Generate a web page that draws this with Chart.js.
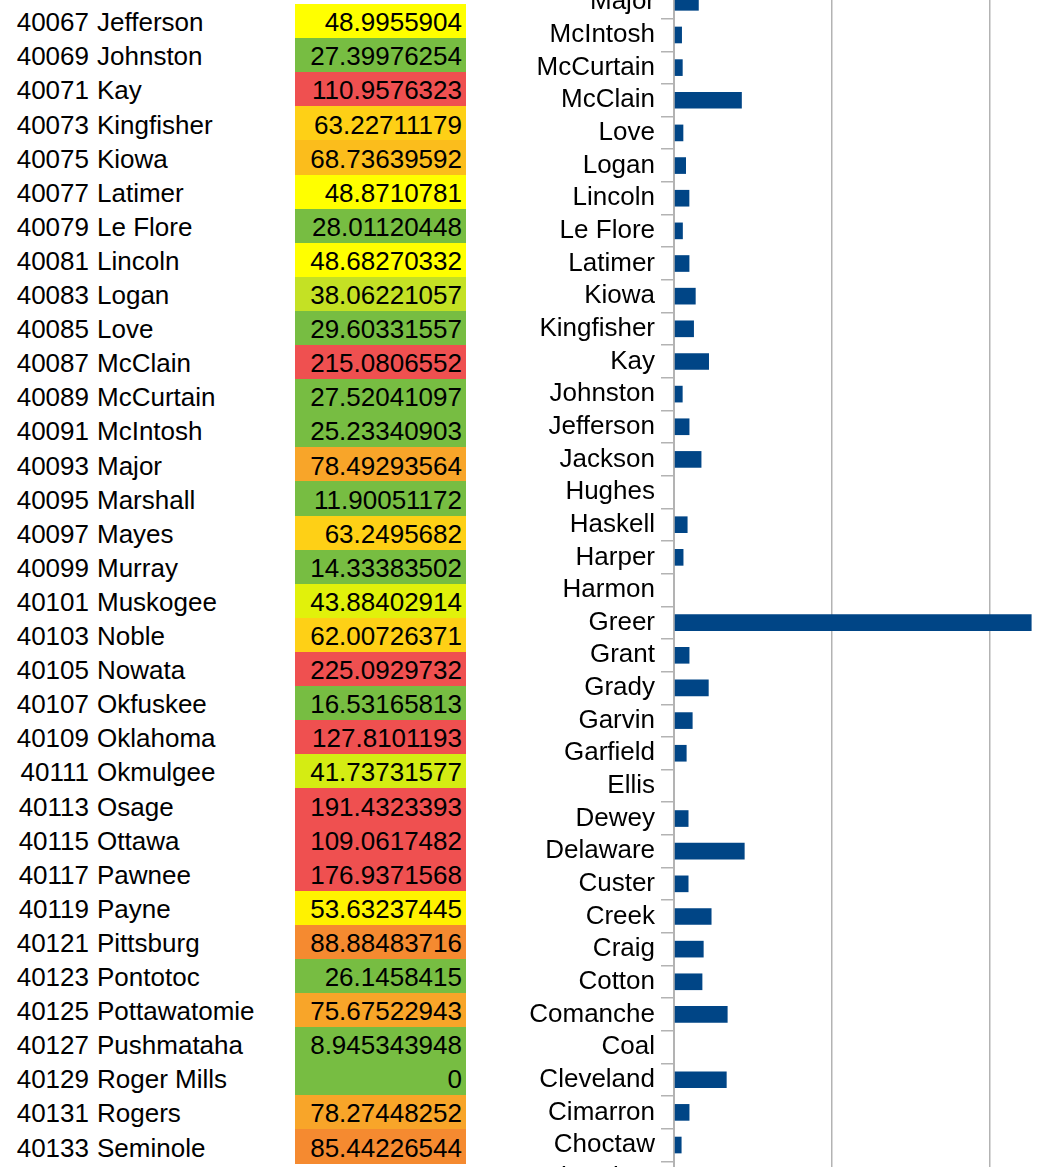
<!DOCTYPE html>
<html>
<head>
<meta charset="utf-8">
<title>Oklahoma counties</title>
<script src="https://cdn.jsdelivr.net/npm/chart.js@4"></script>
<style>
  html, body {
    margin: 0; padding: 0; background: #fff; overflow: hidden;
    width: 1048px; height: 1167px; position: relative;
    font-family: 'Liberation Sans', Arial, sans-serif;
  }
  #sheet { position: absolute; left: 0; top: 0; width: 480px; height: 1167px; }
  .txt { position: absolute; font-size: 26px; color: #000; white-space: nowrap; }
  .fill { position: absolute; }
  #chartBox { position: absolute; left: 514px; top: -14px; width: 633px; height: 1238px; }
</style>
</head>
<body>
<div id="sheet"></div>
<div id="chartBox"><canvas id="bars" width="633" height="1238"></canvas></div>
<script>
// Spreadsheet rows: county FIPS code, county name, value
const fipsCodes = [40067, 40069, 40071, 40073, 40075, 40077, 40079, 40081, 40083, 40085,
  40087, 40089, 40091, 40093, 40095, 40097, 40099, 40101, 40103, 40105, 40107, 40109,
  40111, 40113, 40115, 40117, 40119, 40121, 40123, 40125, 40127, 40129, 40131, 40133];
const tableCounties = ['Jefferson', 'Johnston', 'Kay', 'Kingfisher', 'Kiowa', 'Latimer',
  'Le Flore', 'Lincoln', 'Logan', 'Love', 'McClain', 'McCurtain', 'McIntosh', 'Major',
  'Marshall', 'Mayes', 'Murray', 'Muskogee', 'Noble', 'Nowata', 'Okfuskee', 'Oklahoma',
  'Okmulgee', 'Osage', 'Ottawa', 'Pawnee', 'Payne', 'Pittsburg', 'Pontotoc',
  'Pottawatomie', 'Pushmataha', 'Roger Mills', 'Rogers', 'Seminole'];
const tableValues = [48.9955904, 27.39976254, 110.9576323, 63.22711179, 68.73639592,
  48.8710781, 28.01120448, 48.68270332, 38.06221057, 29.60331557, 215.0806552,
  27.52041097, 25.23340903, 78.49293564, 11.90051172, 63.2495682, 14.33383502,
  43.88402914, 62.00726371, 225.0929732, 16.53165813, 127.8101193, 41.73731577,
  191.4323393, 109.0617482, 176.9371568, 53.63237445, 88.88483716, 26.1458415,
  75.67522943, 8.945343948, 0, 78.27448252, 85.44226544];

// Bar chart categories (alphabetical, first one at the bottom)
const chartCounties = ['Cherokee', 'Choctaw', 'Cimarron', 'Cleveland', 'Coal', 'Comanche',
  'Cotton', 'Craig', 'Creek', 'Custer', 'Delaware', 'Dewey', 'Ellis', 'Garfield', 'Garvin',
  'Grady', 'Grant', 'Greer', 'Harmon', 'Harper', 'Haskell', 'Hughes', 'Jackson',
  'Jefferson', 'Johnston', 'Kay', 'Kingfisher', 'Kiowa', 'Latimer', 'Le Flore', 'Lincoln',
  'Logan', 'Love', 'McClain', 'McCurtain', 'McIntosh', 'Major'];
// Values for the charted counties that sit above the visible rows of the sheet
const earlierCounties = ['Cherokee', 'Choctaw', 'Cimarron', 'Cleveland', 'Coal', 'Comanche',
  'Cotton', 'Craig', 'Creek', 'Custer', 'Delaware', 'Dewey', 'Ellis', 'Garfield', 'Garvin',
  'Grady', 'Grant', 'Greer', 'Harmon', 'Harper', 'Haskell', 'Hughes', 'Jackson'];
const earlierValues = [null, 24, 49, 167, 0, 170, 90, 94, 119, 46, 224, 46, 0, 40, 59,
  110, 49, 1134, 0, 30, 43, 0, 87];

// x-axis ticks
const xTicks = [0, 500, 1000, 1500];

// Conditional-format colour for a value cell
function cellColor(v) {
  if (v < 35) return '#77bd42';
  if (v < 39) return '#c4e124';
  if (v < 42) return '#d4ec13';
  if (v < 46) return '#e1f10b';
  if (v < 52) return '#ffff00';
  if (v < 58) return '#fff200';
  if (v < 65) return '#fed016';
  if (v < 72) return '#fbbd1c';
  if (v < 80) return '#f8a529';
  if (v < 100) return '#f58a30';
  return '#ef5050';
}

// ---- sheet ----
const sheet = document.getElementById('sheet');
const ROW_TOP = 4, ROW_H = 34.1, TEXT_SHIFT = 1.2;
function add(cls, style, text) {
  const d = document.createElement('div');
  d.className = cls;
  Object.assign(d.style, style);
  if (text !== undefined) d.textContent = text;
  sheet.appendChild(d);
}
tableCounties.forEach((name, i) => {
  const top = ROW_TOP + i * ROW_H;
  add('fill', { left: '295px', top: top + 'px', width: '171px', height: (ROW_H + 0.5) + 'px',
    background: cellColor(tableValues[i]) });
  const line = { top: (top + TEXT_SHIFT) + 'px', height: ROW_H + 'px', lineHeight: ROW_H + 'px' };
  add('txt', Object.assign({ left: '0px', width: '89px', textAlign: 'right' }, line), String(fipsCodes[i]));
  add('txt', Object.assign({ left: '97px' }, line), name);
  add('txt', Object.assign({ left: '295px', width: '167px', textAlign: 'right' }, line), String(tableValues[i]));
});

// ---- bar chart ----
const chartValues = chartCounties.map(name => {
  const t = tableCounties.indexOf(name);
  if (t >= 0) return tableValues[t];
  const e = earlierCounties.indexOf(name);
  return e >= 0 ? earlierValues[e] : null;
});

Chart.defaults.font.family = "'Liberation Sans', Arial, sans-serif";
Chart.defaults.font.size = 26;
Chart.defaults.color = '#000';

new Chart(document.getElementById('bars'), {
  type: 'bar',
  data: {
    labels: chartCounties,
    datasets: [{
      data: chartValues,
      backgroundColor: '#004586',
      borderWidth: 0,
      barPercentage: 0.51,
      categoryPercentage: 1
    }]
  },
  options: {
    indexAxis: 'y',
    responsive: false,
    animation: false,
    layout: { padding: 0 },
    plugins: { legend: { display: false }, tooltip: { enabled: false } },
    scales: {
      y: {
        reverse: true,
        border: { color: '#b3b3b3', width: 2 },
        grid: { drawOnChartArea: false, tickLength: 13, color: '#b3b3b3', lineWidth: 1.5 },
        ticks: { autoSkip: false, padding: 6, color: '#000' },
        afterFit(s) { s.width = 160; s.paddingTop = 0; s.paddingBottom = 0; }
      },
      x: {
        min: xTicks[0],
        max: xTicks[xTicks.length - 1],
        afterBuildTicks(s) { s.ticks = xTicks.map(v => ({ value: v })); },
        border: { color: '#b3b3b3', width: 2 },
        grid: { color: '#b3b3b3', lineWidth: 1.5 },
        ticks: { color: '#000', padding: 2 },
        afterFit(s) { s.height = 30; s.paddingLeft = 0; s.paddingRight = 0; }
      }
    }
  }
});
</script>
</body>
</html>
